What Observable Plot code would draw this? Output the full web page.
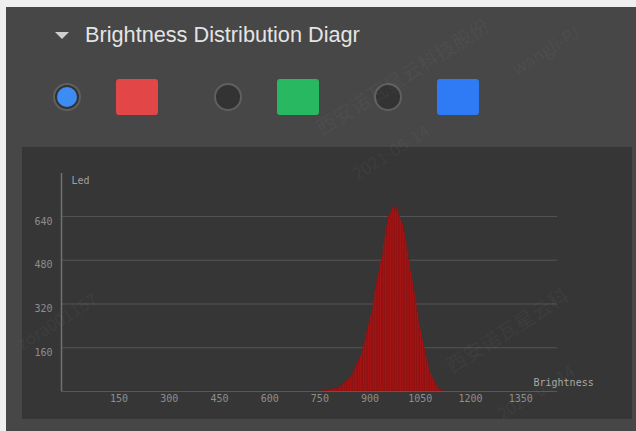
<!DOCTYPE html>
<html>
<head>
<meta charset="utf-8">
<script src="https://cdn.jsdelivr.net/npm/d3@7"></script>
<script src="https://cdn.jsdelivr.net/npm/@observablehq/plot@0.6"></script>
<style>
  html, body { margin: 0; padding: 0; }
  body { width: 636px; height: 431px; background: #efefef; position: relative; overflow: hidden; font-family: "Liberation Sans", Arial, sans-serif; }
  #panel { position: absolute; left: 6px; top: 7px; width: 630px; height: 424px; background: #474747; }
  #title { position: absolute; left: 85px; top: 22px; white-space: nowrap; color: #e4e4e4; font-size: 21.7px; line-height: 26px; }
  #tri { position: absolute; left: 55px; top: 32px; width: 0; height: 0; border-left: 7.5px solid transparent; border-right: 7.5px solid transparent; border-top: 7px solid #cfcfcf; }
  .radio { position: absolute; top: 83px; width: 24px; height: 24px; border-radius: 50%; border: 2px solid #5f5f5f; background: #333; }
  .radio.on::after { content: ""; position: absolute; left: 2px; top: 2px; width: 20px; height: 20px; border-radius: 50%; background: #3d8cf4; }
  .sw { position: absolute; top: 79px; width: 42px; height: 36px; border-radius: 3px; }
  #chartbg { position: absolute; left: 22px; top: 147px; width: 610px; height: 272px; background: #363636; }
  #chart { position: absolute; left: 22px; top: 147px; }
  .wm { position: absolute; color: rgba(255,255,255,0.05); font-family: "Noto Sans CJK SC", sans-serif; font-size: 20px; white-space: nowrap; transform-origin: left bottom; transform: rotate(-32deg); pointer-events: none; }
</style>
</head>
<body>
<div id="panel"></div>
<div id="tri"></div>
<div id="title">Brightness Distribution Diagr</div>
<div class="radio on" style="left:53px"></div>
<div class="sw" style="left:116px;background:#e34646"></div>
<div class="radio" style="left:214px"></div>
<div class="sw" style="left:277px;background:#29b862"></div>
<div class="radio" style="left:374px"></div>
<div class="sw" style="left:437px;background:#2f7af5"></div>
<div id="chartbg"></div>
<div id="chart"></div>
<div class="wm" style="left:325px;top:112px">西安诺瓦星云科技股份</div>
<div class="wm" style="left:360px;top:160px;font-size:17px">2021-05-14</div>
<div class="wm" style="left:520px;top:55px;font-size:17px">wangli-PJ</div>
<div class="wm" style="left:25px;top:330px;font-size:17px">zora001157</div>
<div class="wm" style="left:455px;top:350px">西安诺瓦星云科</div>
<div class="wm" style="left:505px;top:400px;font-size:17px">2021-05-14</div>
<script>
// Histogram bins: start brightness (bin width 5) and pixel count
const binStart = [760,765,770,775,780,785,790,795,800,805,810,815,820,825,830,835,840,845,850,855,860,865,870,875,880,885,890,895,900,905,910,915,920,925,930,935,940,945,950,955,960,965,970,975,980,985,990,995,1000,1005,1010,1015,1020,1025,1030,1035,1040,1045,1050,1055,1060,1065,1070,1075,1080,1085,1090,1095,1100,1105,1110,1115];
const counts = [1,2,3,4,5,6,8,9,11,14,18,24,28,33,38,44,52,60,72,84,98,112,130,148,168,190,215,245,272,300,335,368,398,432,470,500,540,568,605,640,652,668,675,655,668,645,628,610,585,548,515,482,440,402,365,325,290,252,222,190,160,130,105,85,65,48,36,24,14,8,4,2];
const binWidth = 5;
const xTicks = [150,300,450,600,750,900,1050,1200,1350];
const yTicks = [160,320,480,640];
const xLabel = "Brightness";
const yLabel = "Led";

const bins = binStart.map((s, i) => ({x1: s, x2: s + binWidth, y: counts[i]}));
const tickFont = {fontFamily: "DejaVu Sans Mono, monospace", fontSize: 10, letterSpacing: "1.4px"};
const fmt = d => String(d);

const chart = Plot.plot({
  width: 610,
  height: 272,
  marginLeft: 39,
  marginRight: 75,
  marginTop: 26,
  marginBottom: 28,
  style: {background: "transparent", color: "#8e8e8e", overflow: "visible"},
  x: {domain: [-22, 1460]},
  y: {domain: [0, 797]},
  marks: [
    Plot.ruleY(yTicks, {stroke: "#555555", strokeWidth: 1}),
    Plot.rectY(bins, {x1: "x1", x2: "x2", y: "y", fill: "#a51414", stroke: "#8e1010", strokeWidth: 0.35}),
    Plot.ruleY([0], {stroke: "#9a3c3c", strokeWidth: 1.2}),
    Plot.ruleX([-22], {y1: 0, y2: 797, stroke: "#707070", strokeWidth: 1.5}),
    Plot.axisY(yTicks, {tickSize: 0, tickPadding: 9, dy: 5, fill: "#8e8e8e", tickFormat: fmt, ...tickFont, label: null}),
    Plot.axisX(xTicks, {tickSize: 0, tickPadding: 3, fill: "#8e8e8e", tickFormat: fmt, ...tickFont, label: null}),
    Plot.text([yLabel], {frameAnchor: "top-left", dx: 10, dy: 7, lineAnchor: "middle", textAnchor: "start", fill: "#a0a0a0", ...tickFont}),
    Plot.text([xLabel], {frameAnchor: "bottom-right", dx: -24, dy: -9, lineAnchor: "middle", textAnchor: "start", fill: "#a8a8a8", ...tickFont})
  ]
});
document.getElementById("chart").appendChild(chart);
</script>
</body>
</html>
